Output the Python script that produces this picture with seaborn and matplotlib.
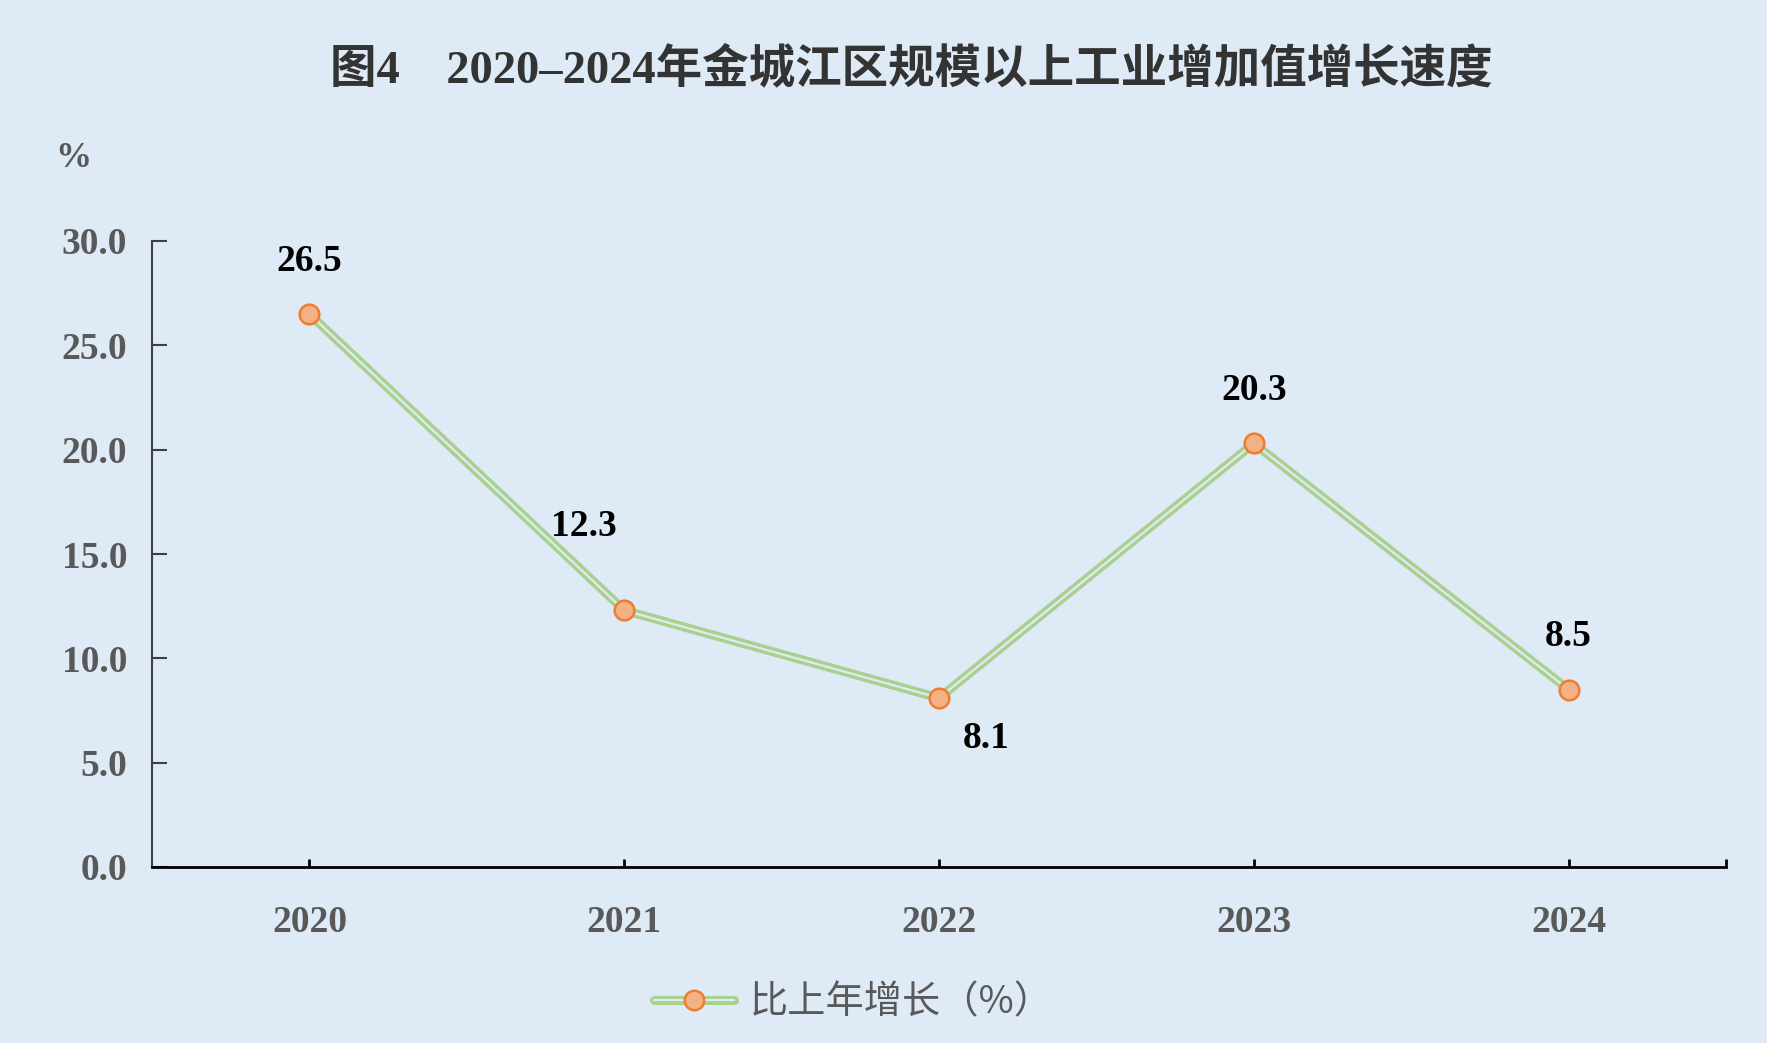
import numpy as np
import pandas as pd
import matplotlib.pyplot as plt
import seaborn as sns
from matplotlib.lines import Line2D

# data
years = ["2020", "2021", "2022", "2023", "2024"]
growth = [26.5, 12.3, 8.1, 20.3, 8.5]
label_offsets = [(0, 53), (-40, 84), (47, -41), (0, 53), (0, 53)]  # pixels from point
yticks = [0, 5, 10, 15, 20, 25, 30]

title = "图4　2020–2024年金城江区规模以上工业增加值增长速度"
series_name = "比上年增长（%）"

BG = "#deeaf6"
GREEN = "#a9d18e"
ORANGE_FACE = "#f4b183"
ORANGE_EDGE = "#ed7d31"
GRAY = "#595959"

sns.set_theme(style="ticks")
plt.rcParams["font.family"] = ["Liberation Serif", "Noto Sans CJK SC", "DejaVu Sans"]

df = pd.DataFrame({"year": years, "growth": growth})

fig = plt.figure(figsize=(17.67, 10.43), dpi=100, facecolor=BG)
ax = fig.add_axes([152 / 1767, 1 - 867 / 1043, (1726 - 152) / 1767, (867 - 241) / 1043])
ax.set_facecolor(BG)

# double (compound) line: thick green, background coloured core
sns.lineplot(data=df, x="year", y="growth", ax=ax, color=GREEN, linewidth=6.5,
             sort=False, zorder=2)
sns.lineplot(data=df, x="year", y="growth", ax=ax, color=BG, linewidth=1.6,
             sort=False, zorder=3)
sns.scatterplot(data=df, x="year", y="growth", ax=ax, s=200, color=ORANGE_FACE,
                edgecolor=ORANGE_EDGE, linewidth=1.8, zorder=4)

for i, (v, off) in enumerate(zip(growth, label_offsets)):
    ax.annotate(f"{v:.1f}", (i, v), xytext=off, textcoords="offset pixels",
                ha="center", va="center", fontsize=27, fontweight="bold",
                color="black", family="Liberation Serif")

ax.set_xlim(-0.5, len(years) - 0.5)
ax.set_ylim(0, 30)
ax.set_yticks(yticks)
ax.set_yticklabels([f"{t:.1f}" for t in yticks])
ax.set_xticks(range(len(years)))
ax.set_xticklabels(years)
ax.set_xticks([len(years) - 0.5], minor=True)
ax.set_xlabel("")
ax.set_ylabel("")

for side in ["top", "right"]:
    ax.spines[side].set_visible(False)
ax.spines["left"].set_color("#404040")
ax.spines["left"].set_linewidth(1.5)
ax.spines["bottom"].set_color("black")
ax.spines["bottom"].set_linewidth(2)

ax.tick_params(axis="y", direction="in", length=11, width=1.5, color="#404040",
               pad=18, labelsize=27, labelcolor=GRAY)
ax.tick_params(axis="x", which="both", direction="in", length=6, width=2, color="black",
               pad=27, labelsize=27, labelcolor=GRAY)
for lab in ax.get_xticklabels() + ax.get_yticklabels():
    lab.set_fontweight("bold")

fig.text(73 / 1767, 1 - 158 / 1043, "%", ha="center", va="center", fontsize=26,
         fontweight="bold", color=GRAY)

fig.text(911 / 1767, 1 - 70 / 1043, title, ha="center", va="center", fontsize=33.5,
         fontweight="bold", color="#333333")

handle = (Line2D([], [], color=GREEN, linewidth=6.5),
          Line2D([], [], color=BG, linewidth=1.6),
          Line2D([], [], linestyle="none", marker="o", markersize=14,
                 markerfacecolor=ORANGE_FACE, markeredgecolor=ORANGE_EDGE,
                 markeredgewidth=1.8))
leg = fig.legend([handle], [series_name], loc="center",
                 bbox_to_anchor=(853 / 1767, 1 - 1003 / 1043), frameon=False,
                 handlelength=2.1, handletextpad=0.4,
                 prop={"family": ["Noto Sans CJK SC"], "size": 27.5})
for t in leg.get_texts():
    t.set_color(GRAY)

fig.savefig("out.png", dpi=100, facecolor=BG)
